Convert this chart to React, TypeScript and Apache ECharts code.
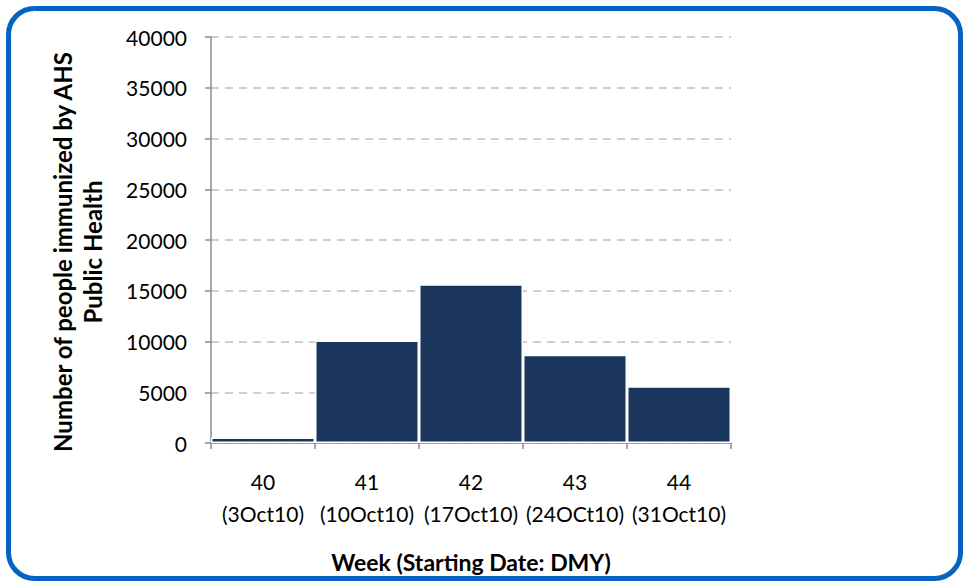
import React, { useEffect, useRef } from "react";
import * as echarts from "echarts";

const weeks = ["40", "41", "42", "43", "44"];
const startDates = ["(3Oct10)", "(10Oct10)", "(17Oct10)", "(24OCt10)", "(31Oct10)"];
const immunized = [550, 10100, 15650, 8700, 5600];
const yTicks = { min: 0, max: 40000, interval: 5000 };
const xTitle = "Week (Starting Date: DMY)";
const yTitle = "Number of people immunized by AHS\nPublic Health";

const FONT = "Lato, 'Open Sans', sans-serif";

export default function App() {
  const ref = useRef<HTMLDivElement>(null);
  useEffect(() => {
    document.body.style.margin = "0";
    const chart = echarts.init(ref.current!, null, { renderer: "svg" });
    const categories = weeks.map((w, i) => w + "\n" + startDates[i]);
    chart.setOption({
      animation: false,
      backgroundColor: "#ffffff",
      grid: { left: 211, right: 233, top: 37, bottom: 139, containLabel: false },
      xAxis: {
        type: "category",
        data: categories,
        boundaryGap: true,
        axisLine: { show: true, lineStyle: { color: "#8c8c8c", width: 1.5 } },
        axisTick: { show: true, length: 6, alignWithLabel: false, lineStyle: { color: "#8c8c8c", width: 1.5 } },
        axisLabel: {
          color: "#000",
          fontFamily: FONT,
          fontSize: 21,
          lineHeight: 32,
          margin: 22,
          interval: 0,
        },
      },
      yAxis: {
        type: "value",
        min: yTicks.min,
        max: yTicks.max,
        interval: yTicks.interval,
        axisLine: { show: true, lineStyle: { color: "#8c8c8c", width: 1.5 } },
        axisTick: { show: true, length: 6, lineStyle: { color: "#8c8c8c", width: 1.5 } },
        axisLabel: {
          color: "#000",
          fontFamily: FONT,
          fontSize: 21,
          margin: 24,
          formatter: (v: number) => String(v),
        },
        splitLine: { show: true, lineStyle: { color: "#c0c0c0", type: [8, 6], width: 1.5 } },
      },
      series: [
        {
          type: "bar",
          data: immunized,
          barCategoryGap: "0%",
          itemStyle: { color: "#1b365d", borderColor: "#ffffff", borderWidth: 1.5 },
        },
      ],
      graphic: [
        {
          type: "rect",
          shape: { x: 8.5, y: 8.5, width: 952, height: 570, r: 26 },
          style: { fill: "none", stroke: "#0563c1", lineWidth: 5 },
          silent: true,
          z: 100,
        },
        {
          type: "text",
          x: 471,
          y: 562,
          style: {
            text: xTitle,
            fontFamily: FONT,
            fontSize: 23,
            fontWeight: "bold",
            fill: "#000",
            align: "center",
            verticalAlign: "middle",
          },
        },
        {
          type: "text",
          x: 77,
          y: 252,
          rotation: Math.PI / 2,
          style: {
            text: yTitle,
            fontFamily: FONT,
            fontSize: 24,
            fontWeight: "bold",
            lineHeight: 30,
            fill: "#000",
            align: "center",
            verticalAlign: "middle",
          },
        },
      ],
    });
    return () => chart.dispose();
  }, []);
  return <div ref={ref} style={{ width: 964, height: 582 }} />;
}
